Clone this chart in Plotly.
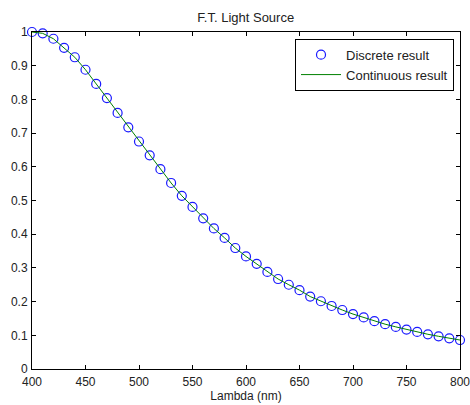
import plotly.graph_objects as go

lambda_nm = list(range(400, 801, 10))
discrete = [1.000, 0.996, 0.980, 0.953, 0.925, 0.888, 0.846, 0.804, 0.760, 0.717,
            0.675, 0.634, 0.593, 0.552, 0.514, 0.481, 0.447, 0.417, 0.389, 0.359,
            0.334, 0.312, 0.288, 0.267, 0.250, 0.234, 0.215, 0.201, 0.187, 0.175,
            0.163, 0.153, 0.142, 0.133, 0.125, 0.117, 0.110, 0.103, 0.097, 0.091,
            0.086]
continuous = discrete
x_ticks = [400, 450, 500, 550, 600, 650, 700, 750, 800]
y_ticks = [0, 0.1, 0.2, 0.3, 0.4, 0.5, 0.6, 0.7, 0.8, 0.9, 1]
y_tick_text = ["0", "0.1", "0.2", "0.3", "0.4", "0.5", "0.6", "0.7", "0.8", "0.9", "1"]

FAM = "Liberation Sans, Arial, sans-serif"
font = dict(family=FAM, size=12, color="#222")

fig = go.Figure()
fig.add_trace(go.Scatter(
    x=lambda_nm, y=discrete, mode="markers", name="Discrete result",
    marker=dict(symbol="circle-open", size=9, color="#1a1aff", line=dict(width=1.2, color="#1a1aff")),
    cliponaxis=False,
))
fig.add_trace(go.Scatter(
    x=lambda_nm, y=continuous, mode="lines", name="Continuous result",
    line=dict(color="#008000", width=1),
))

axis_common = dict(
    showline=True, linecolor="black", linewidth=1, mirror="ticks",
    ticks="inside", ticklen=4, tickcolor="black", showgrid=False, zeroline=False,
    tickfont=font, automargin=False, ticklabeloverflow="allow",
)

fig.update_layout(
    width=470, height=405,
    margin=dict(l=31.5, r=10, t=32.3, b=35.7, autoexpand=False),
    paper_bgcolor="white", plot_bgcolor="white",
    font=font,
    title=dict(text="F.T. Light Source", x=(31.5 + 460) / 2 / 470, xanchor="center",
               yref="container", y=1 - 17 / 405, yanchor="middle",
               font=dict(family=FAM, size=13, color="#222")),
    xaxis=dict(range=[400, 800], tickvals=x_ticks, ticklabelstandoff=2,
               title=dict(text="Lambda (nm)", standoff=2, font=font),
               **axis_common),
    yaxis=dict(range=[0, 1], tickvals=y_ticks, ticktext=y_tick_text, ticklabelstandoff=1,
               **axis_common),
    legend=dict(x=0.986, xanchor="right", y=0.980, yanchor="top",
                bgcolor="white", bordercolor="black", borderwidth=1,
                font=dict(family=FAM, size=13, color="#222"),
                tracegroupgap=0, itemwidth=40),
    showlegend=True,
)

fig.write_html("out.html")
